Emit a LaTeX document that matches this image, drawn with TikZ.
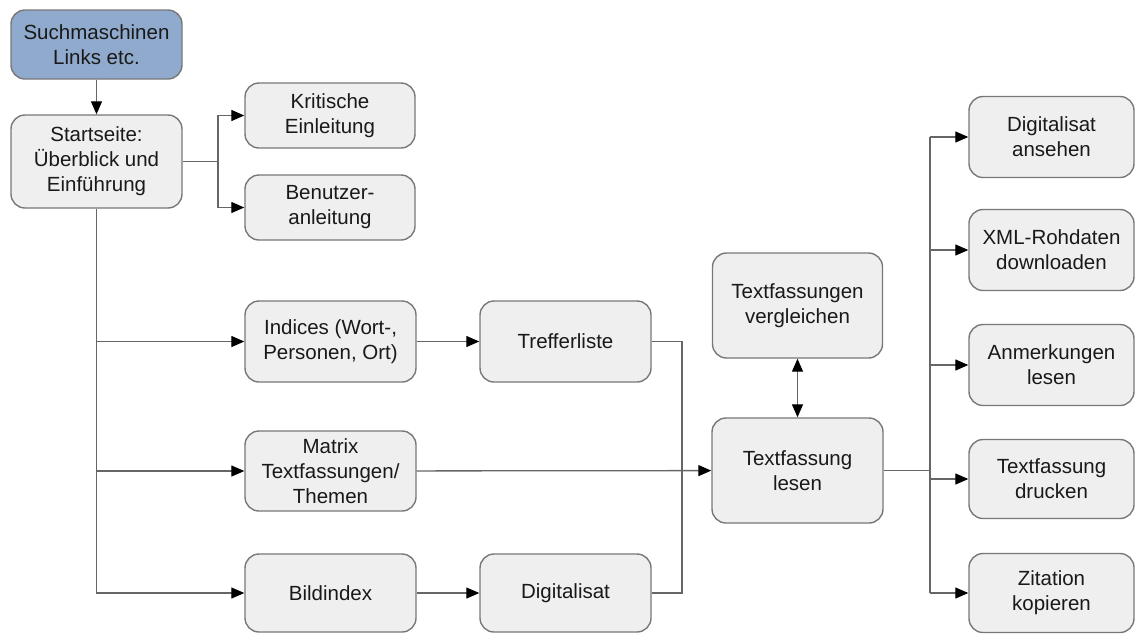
\documentclass[tikz,border=0pt]{standalone}
\usepackage{fontspec}
\setmainfont{Liberation Sans}
\usetikzlibrary{arrows.meta}
\definecolor{boxfill}{HTML}{EFEFEF}
\definecolor{boxline}{HTML}{787878}
\definecolor{wireline}{HTML}{666666}
\definecolor{sourcefill}{HTML}{8FAACC}
\begin{document}
\begin{tikzpicture}[x=1pt,y=-1pt,
  box/.style={draw=boxline, line width=1.4pt, fill=boxfill, rounded corners=14pt,
    align=center, inner sep=0pt, text=black!90, font=\fontsize{20.5}{25}\selectfont},
  tip/.style={Triangle[length=13pt,width=11pt,color=black]},
  wire/.style={draw=wireline, line width=1.3pt},
  arr/.style={wire, -{Triangle[length=13pt,width=11pt,color=black]}},
  darr/.style={wire, {Triangle[length=13pt,width=11pt,color=black]}-{Triangle[length=13pt,width=11pt,color=black]}}
]
\useasboundingbox (0,0) rectangle (1137,633);

% entry point and start page
\node[box, fill=sourcefill, minimum width=171pt, minimum height=69pt] (such) at (96.5,44.5) {Suchmaschinen\\Links etc.};
\node[box, minimum width=171pt, minimum height=93pt] (start) at (96.5,161.5) {Startseite:\\Überblick und\\Einführung};

% introductory pages
\node[box, minimum width=170pt, minimum height=65pt] (krit) at (330,115.5) {Kritische\\Einleitung};
\node[box, minimum width=170pt, minimum height=65pt] (benu) at (330,207.5) {Benutzer-\\anleitung};

% access routes
\node[box, minimum width=171pt, minimum height=81pt] (indices) at (330.5,341.5) {Indices (Wort-,\\Personen, Ort)};
\node[box, minimum width=171pt, minimum height=80pt] (matrix) at (330.5,471) {Matrix\\Textfassungen/\\Themen};
\node[box, minimum width=171pt, minimum height=78pt] (bild) at (330.5,593) {Bildindex};
\node[box, minimum width=171pt, minimum height=81pt] (treffer) at (565.5,341.5) {Trefferliste};
\node[box, minimum width=171pt, minimum height=78pt] (digi) at (565.5,593) {Digitalisat};

% reading view
\node[box, minimum width=170pt, minimum height=105pt] (vergl) at (797.5,305.5) {Textfassungen\\vergleichen};
\node[box, minimum width=171pt, minimum height=105pt] (lesen) at (797.5,470.5) {Textfassung\\lesen};

% actions on a text version
\node[box, minimum width=165pt, minimum height=81pt] (r1) at (1051.5,137) {Digitalisat\\ansehen};
\node[box, minimum width=165pt, minimum height=81pt] (r2) at (1051.5,250) {XML-Rohdaten\\downloaden};
\node[box, minimum width=165pt, minimum height=81pt] (r3) at (1051.5,365) {Anmerkungen\\lesen};
\node[box, minimum width=165pt, minimum height=79pt] (r4) at (1051.5,479) {Textfassung\\drucken};
\node[box, minimum width=165pt, minimum height=79pt] (r5) at (1051.5,593) {Zitation\\kopieren};

% connectors
\coordinate (kb) at (218,0);
\coordinate (mj) at (682,0);
\coordinate (rb) at (930,0);

\draw[arr] (such) -- (start);
\draw[wire] (start.east) -- (kb |- start.east);
\draw[arr] (kb |- start.east) |- (krit.west);
\draw[arr] (kb |- start.east) |- (benu.west);

\draw[arr] (start.south) |- (bild.west);
\draw[arr] (start.south |- indices.west) -- (indices.west);
\draw[arr] (start.south |- matrix.west) -- (matrix.west);

\draw[arr] (indices) -- (treffer);
\draw[arr] (bild) -- (digi);
\draw[wire] (treffer.east) -| (mj |- digi.east) -- (digi.east);
\draw[arr] (matrix) -- (lesen);
\draw[darr] (vergl) -- (lesen);

\draw[wire] (lesen.east) -- (rb |- lesen.east);
\draw[wire] (rb |- r1.west) -- (rb |- r5.west);
\foreach \r in {r1,r2,r3,r4,r5}
  \draw[arr] (rb |- \r.west) -- (\r.west);
\end{tikzpicture}
\end{document}
